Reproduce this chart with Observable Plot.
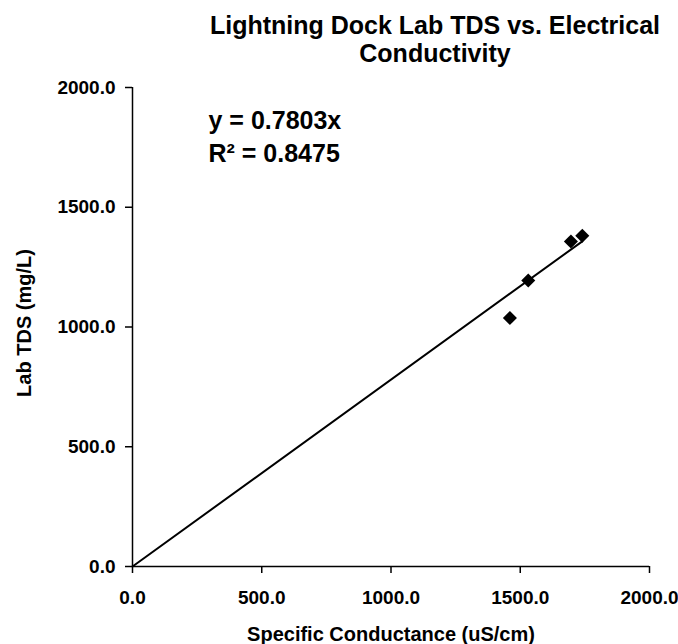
<!DOCTYPE html>
<html><head><meta charset="utf-8">
<script src="https://cdn.jsdelivr.net/npm/d3@7"></script>
<script src="https://cdn.jsdelivr.net/npm/@observablehq/plot@0.6"></script>
<style>
body{margin:0;background:#fff;font-family:Arial,"Liberation Sans",sans-serif;}
#title{height:70px;box-sizing:border-box;padding-left:192px;padding-top:11px;text-align:center;font-weight:bold;font-size:25px;line-height:28px;color:#000;}
</style></head><body>
<div id="title">Lightning Dock Lab TDS vs. Electrical<br>Conductivity</div>
<div id="chart"></div>
<script>
const conductance = [1460, 1531, 1696, 1740];
const labTDS = [1038, 1194, 1357, 1381];
const slope = 0.7803;
const rSquared = 0.8475;
const xTicks = [0, 500, 1000, 1500, 2000];
const yTicks = [0, 500, 1000, 1500, 2000];
const xLabel = "Specific Conductance (uS/cm)";
const yLabel = "Lab TDS (mg/L)";

const points = conductance.map((c, i) => ({x: c, y: labTDS[i]}));
const xMax = d3.max(conductance);
const trend = [{x: 0, y: 0}, {x: xMax, y: slope * xMax}];
const fmt = d3.format(".1f");

const chart = Plot.plot({
  width: 678,
  height: 574,
  marginLeft: 132,
  marginRight: 29,
  marginTop: 17,
  marginBottom: 78,
  style: {fontFamily: "Arial, 'Liberation Sans', sans-serif", fontSize: "19px", fontWeight: "bold", color: "#000", background: "#fff", overflow: "visible"},
  x: {domain: [0, 2000]},
  y: {domain: [0, 2000]},
  marks: [
    Plot.axisX({ticks: xTicks, tickFormat: fmt, tickSize: 7, tickPadding: 17, fontSize: 19, fontWeight: "bold",
      label: null, strokeWidth: 1.5}),
    Plot.axisY({ticks: yTicks, tickFormat: fmt, tickSize: 7, tickPadding: 10, fontSize: 19, fontWeight: "bold",
      label: null, strokeWidth: 1.5}),
    Plot.text([xLabel], {frameAnchor: "bottom", dy: 68, textAnchor: "middle", lineAnchor: "middle", fontSize: 20, fontWeight: "bold", fill: "#000"}),
    Plot.text([yLabel], {frameAnchor: "left", dx: -108, dy: -4, rotate: -90, textAnchor: "middle", lineAnchor: "middle", fontSize: 20, fontWeight: "bold", fill: "#000"}),
    Plot.ruleX([0], {stroke: "#000", strokeWidth: 1.5}),
    Plot.ruleY([0], {stroke: "#000", strokeWidth: 1.5}),
    Plot.line(trend, {x: "x", y: "y", stroke: "#000", strokeWidth: 2}),
    Plot.dot(points, {x: "x", y: "y", symbol: "square", rotate: 45, r: 5.6, fill: "#000", stroke: "none"}),
    Plot.text([`y = ${slope.toFixed(4)}x\nR² = ${rSquared.toFixed(4)}`], {
      frameAnchor: "top-left", dx: 76, dy: 18, textAnchor: "start", lineAnchor: "top",
      lineHeight: 1.33, fontSize: 25, fontWeight: "bold", fill: "#000"})
  ]
});
document.getElementById("chart").appendChild(chart);
</script>
</body></html>
